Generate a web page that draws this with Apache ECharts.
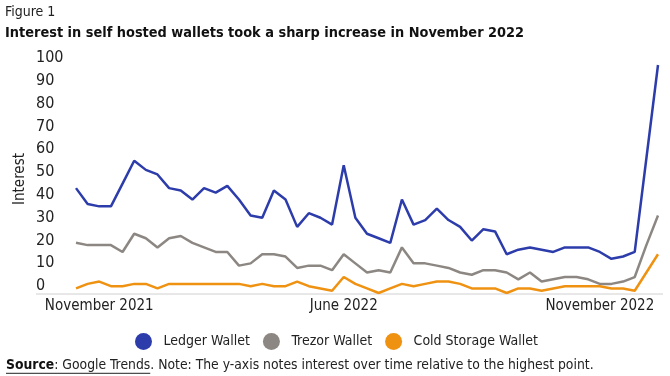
<!DOCTYPE html>
<html>
<head>
<meta charset="utf-8">
<script src="https://cdn.jsdelivr.net/npm/echarts@6/dist/echarts.min.js"></script>
<style>
html, body { margin: 0; padding: 0; background: #fff; }
#chart { width: 670px; height: 376px; }
</style>
</head>
<body>
<div id="chart"></div>
<script>
// weekly points, Google Trends
var weeks = ['1','2','3','4','5','6','7','8','9','10','11','12','13','14','15','16','17',
     '18','19','20','21','22','23','24','25','26','27','28','29','30','31','32','33','34',
     '35','36','37','38','39','40','41','42','43','44','45','46','47','48','49','50','51'];
var tickLabels = { 2: 'November 2021', 23: 'June 2022', 45: 'November 2022' };

var ledger = [46, 39, 38, 38, 48, 58, 54, 52, 46, 45, 41, 46, 44, 47, 41, 34, 33,
     45, 41, 29, 35, 33, 30, 56, 33, 26, 24, 22, 41, 30, 32, 37, 32, 29,
     23, 28, 27, 17, 19, 20, 19, 18, 20, 20, 20, 18, 15, 16, 18, 59, 100];
var trezor = [22, 21, 21, 21, 18, 26, 24, 20, 24, 25, 22, 20, 18, 18, 12, 13, 17,
     17, 16, 11, 12, 12, 10, 17, 13, 9, 10, 9, 20, 13, 13, 12, 11, 9,
     8, 10, 10, 9, 6, 9, 5, 6, 7, 7, 6, 4, 4, 5, 7, 21, 34];
var coldStorage = [2, 4, 5, 3, 3, 4, 4, 2, 4, 4, 4, 4, 4, 4, 4, 3, 4,
     3, 3, 5, 3, 2, 1, 7, 4, 2, 0, 2, 4, 3, 4, 5, 5, 4,
     2, 2, 2, 0, 2, 2, 1, 2, 3, 3, 3, 3, 2, 2, 1, 9, 17];

var FONT = '"DejaVu Sans Condensed", "Liberation Sans", sans-serif';

var ctx = document.createElement('canvas').getContext('2d');
function textW(str, size, weight) {
     ctx.font = (weight || 'normal') + ' ' + size + 'px ' + FONT;
     return ctx.measureText(str).width;
}

// source line pieces
var srcSize = 13.8;
var srcY = 358;
var x0 = 6;
var wSource = textW('Source', srcSize, 'bold');
var wColon = textW(': ', srcSize);
var wGoogle = textW('Google Trends', srcSize);

var chart = echarts.init(document.getElementById('chart'));

var option = {
     animation: false,
     color: ['#2d3cab', '#8c8782', '#ef9212'],
     grid: { left: 76, right: 12, top: 65, bottom: 83 },
     legend: {
          top: 328,
          left: 130,
          icon: 'circle',
          itemWidth: 30,
          itemHeight: 17,
          itemGap: 13,
          textStyle: { fontFamily: FONT, fontSize: 14, color: '#222' },
          data: ['Ledger Wallet', 'Trezor Wallet', 'Cold Storage Wallet']
     },
     xAxis: {
          type: 'category',
          data: weeks,
          boundaryGap: false,
          axisLine: { show: false },
          axisTick: { show: false },
          axisLabel: {
               interval: function (i) { return tickLabels[i] !== undefined; },
               formatter: function (v, i) { return tickLabels[i] || ''; },
               fontFamily: FONT,
               fontSize: 15,
               color: '#222',
               margin: 6
          }
     },
     yAxis: {
          type: 'value',
          min: 0,
          max: 100,
          interval: 10,
          name: 'Interest',
          nameLocation: 'middle',
          nameGap: 48,
          nameMoveOverlap: false,
          nameTextStyle: { fontFamily: FONT, fontSize: 15, color: '#222' },
          axisLine: { show: false },
          axisTick: { show: false },
          splitLine: { show: false },
          axisLabel: {
               align: 'left',
               verticalAlign: 'bottom',
               margin: 40,
               lineHeight: 14,
               fontFamily: FONT,
               fontSize: 16,
               color: '#222'
          }
     },
     graphic: [
          { type: 'text', left: 5, top: 5,
            style: { text: 'Figure 1', fontFamily: FONT, fontSize: 14, fill: '#222' } },
          { type: 'text', left: 5, top: 26,
            style: { text: 'Interest in self hosted wallets took a sharp increase in November 2022',
                     fontFamily: FONT, fontSize: 14.4, fontWeight: 'bold', fill: '#111' } },
          { type: 'line', shape: { x1: 36, y1: 294, x2: 663, y2: 294 },
            style: { stroke: '#d0d0d0', lineWidth: 1 } },
          { type: 'text', x: x0, y: srcY,
            style: { text: 'Source', fontFamily: FONT, fontSize: srcSize, fontWeight: 'bold', fill: '#111' } },
          { type: 'text', x: x0 + wSource, y: srcY,
            style: { text: ': Google Trends', fontFamily: FONT, fontSize: srcSize, fill: '#222' } },
          { type: 'text', x: x0 + wSource + wColon + wGoogle, y: srcY,
            style: { text: '. Note: The y-axis notes interest over time relative to the highest point.',
                     fontFamily: FONT, fontSize: srcSize, fill: '#222' } },
          { type: 'line', shape: { x1: x0, y1: srcY + srcSize + 1.5, x2: x0 + wSource + wColon + wGoogle, y2: srcY + srcSize + 1.5 },
            style: { stroke: '#222', lineWidth: 1 } }
     ],
     series: [
          { name: 'Ledger Wallet', type: 'line', data: ledger, symbol: 'none', lineStyle: { width: 2.5 } },
          { name: 'Trezor Wallet', type: 'line', data: trezor, symbol: 'none', lineStyle: { width: 2.5 } },
          { name: 'Cold Storage Wallet', type: 'line', data: coldStorage, symbol: 'none', lineStyle: { width: 2.5 } }
     ]
};

chart.setOption(option);
</script>
</body>
</html>
